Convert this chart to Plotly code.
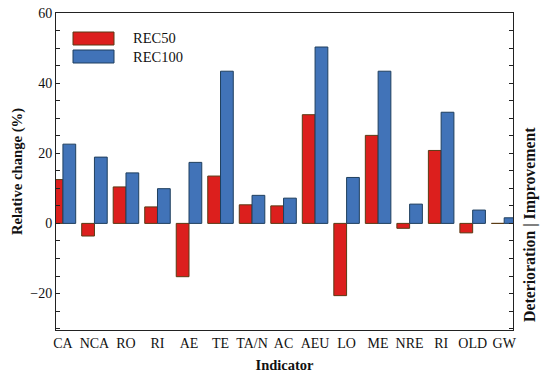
import plotly.graph_objects as go

categories = ["CA", "NCA", "RO", "RI", "AE", "TE", "TA/N", "AC", "AEU", "LO", "ME", "NRE", "RI ", "OLD", "GW"]
tick_labels = ["CA", "NCA", "RO", "RI", "AE", "TE", "TA/N", "AC", "AEU", "LO", "ME", "NRE", "RI", "OLD", "GW"]
rec50 = [12.5, -3.6, 10.4, 4.7, -15.2, 13.5, 5.3, 5.0, 31.0, -20.6, 25.1, -1.4, 20.8, -2.7, 0.0]
rec100 = [22.6, 18.9, 14.4, 9.9, 17.4, 43.4, 8.0, 7.2, 50.3, 13.1, 43.4, 5.5, 31.7, 3.8, 1.6]

FONT = "Liberation Serif"
TXT = "#111"
RED = "#dc1f1d"
RED_LINE = "#5a3a14"
BLUE = "#4173b8"
BLUE_LINE = "#1f3f5e"

x_idx = list(range(len(categories)))

fig = go.Figure()
fig.add_trace(go.Bar(x=x_idx, y=rec50, name="REC50", marker=dict(color=RED, line=dict(color=RED_LINE, width=1)), showlegend=False))
fig.add_trace(go.Bar(x=x_idx, y=rec100, name="REC100", marker=dict(color=BLUE, line=dict(color=BLUE_LINE, width=1)), showlegend=False))

fig.update_layout(
    width=550, height=380,
    margin=dict(l=56, r=37, t=13, b=50),
    paper_bgcolor="white", plot_bgcolor="white",
    barmode="group", bargap=0.19, bargroupgap=0,
    font=dict(family=FONT, size=14, color=TXT),
)
fig.update_xaxes(
    range=[-0.22, 14.28], tickmode="array", tickvals=x_idx, ticktext=tick_labels,
    showline=True, linecolor="#222", linewidth=1, mirror=True, ticks="",
    showgrid=False, zeroline=False, tickfont=dict(size=14, family=FONT, color=TXT),
    automargin=False,
    title=dict(text="<b>Indicator</b>", font=dict(size=14.5, family=FONT, color=TXT), standoff=10),
)
fig.update_yaxes(
    range=[-30.4, 60], dtick=20, tick0=0, showline=True, linecolor="#222", linewidth=1,
    mirror="ticks", ticks="inside", ticklen=4, tickcolor="#222",
    minor=dict(dtick=5, ticks="inside", ticklen=4, tickcolor="#222"),
    showgrid=False, zeroline=False, tickfont=dict(size=14, family=FONT, color=TXT),
    automargin=False,
    title=dict(text="<b>Relative change (%)</b>", font=dict(size=14.7, family=FONT, color=TXT), standoff=4),
)

# legend drawn in paper coordinates
leg_items = [("REC50", RED, RED_LINE), ("REC100", BLUE, BLUE_LINE)]
plot_w = 550 - 56 - 37
plot_h = 380 - 13 - 50
for i, (name, col, lc) in enumerate(leg_items):
    y_top = 32 + i * 18
    x0 = (73 - 56) / plot_w
    x1 = (114 - 56) / plot_w
    y0 = 1 - (y_top + 13 - 13) / plot_h
    y1 = 1 - (y_top - 13) / plot_h
    fig.add_shape(type="rect", xref="paper", yref="paper", x0=x0, x1=x1, y0=y0, y1=y1,
                  fillcolor=col, line=dict(color=lc, width=1))
    fig.add_annotation(xref="paper", yref="paper", x=(131 - 56) / plot_w, y=(y0 + y1) / 2,
                       text=name, showarrow=False, xanchor="left", yanchor="middle",
                       font=dict(size=14.5, family=FONT, color=TXT))

fig.add_annotation(xref="paper", yref="paper", x=1, xshift=17, y=(330 - 225) / plot_h,
                   text="<b>Deterioration | Improvement</b>", textangle=-90, showarrow=False,
                   xanchor="center", yanchor="middle", font=dict(size=15.8, family=FONT, color=TXT))

fig.write_html("out.html", config={"displayModeBar": False},
               post_script="document.body.style.margin='0';document.body.style.overflow='hidden';")
